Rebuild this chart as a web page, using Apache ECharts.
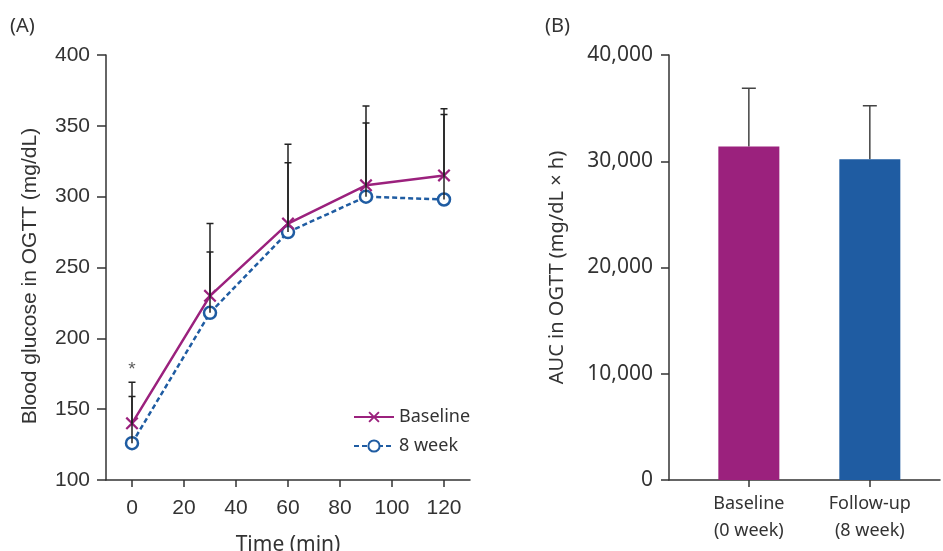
<!DOCTYPE html>
<html>
<head>
<meta charset="utf-8">
<script src="https://cdn.jsdelivr.net/npm/echarts@6/dist/echarts.min.js"></script>
<style>
  html, body { margin: 0; padding: 0; background: #fff; }
  #chart { width: 943px; height: 551px; }
</style>
</head>
<body>
<div id="chart"></div>
<script>
// (A) OGTT curves
const timePoints = [0, 30, 60, 90, 120]
const timeTicks = [0, 20, 40, 60, 80, 100, 120]
const baselineMean = [140, 230, 281, 308, 315]
const baselineSD = [29, 51, 56, 56, 47]
const week8Mean = [126, 218, 275, 300, 298]
const week8SD = [33, 43, 49, 52, 60]
const starValue = 178

// (B) AUC bars
const barLabels = ['Baseline\n(0 week)', 'Follow-up\n(8 week)']
const aucMean = [31400, 30200]
const aucSD = [5460, 5030]

const magenta = '#9B217D'
const blue = '#1F5CA2'
const ink = '#333'

// one polyline per point: mean -> top, then the cap
function errorBars(capHalf, color) {
  return function (params, api) {
    const x = api.value(0)
    const base = api.coord([x, api.value(1)])
    const top = api.coord([x, api.value(1) + api.value(2)])
    return {
      type: 'polyline',
      shape: {
        points: [base, top, [top[0] - capHalf, top[1]], [top[0] + capHalf, top[1]]]
      },
      style: { stroke: color, lineWidth: 1.5, fill: null }
    }
  }
}

const xMark = 'path://M1.2,0 L5,3.8 L8.8,0 L10,1.2 L6.2,5 L10,8.8 L8.8,10 L5,6.2 L1.2,10 L0,8.8 L3.8,5 L0,1.2 Z'

const axisLine = { show: true, onZero: false, lineStyle: { color: ink, width: 1.5 } }

const chart = echarts.init(document.getElementById('chart'))
chart.setOption({
  animation: false,
  graphic: [
    { type: 'text', left: 10, top: 16, style: { text: '(A)', font: '20px "Noto Sans"', fill: ink } },
    { type: 'text', left: 545, top: 16, style: { text: '(B)', font: '20px "Noto Sans"', fill: ink } },
    {
      type: 'text',
      x: 30,
      y: 276,
      rotation: Math.PI / 2,
      style: {
        text: 'Blood glucose in OGTT (mg/dL)',
        font: '21px "Liberation Sans"',
        fill: ink,
        align: 'center',
        verticalAlign: 'middle'
      }
    }
  ],
  legend: {
    data: ['Baseline', '8 week'],
    orient: 'vertical',
    left: 353,
    top: 408,
    padding: 0,
    itemWidth: 40,
    itemHeight: 14,
    itemGap: 11,
    textStyle: { fontFamily: 'Noto Sans', fontSize: 18, color: ink }
  },
  grid: [
    { left: 106, top: 55, right: 473, bottom: 71, outerBoundsMode: 'none' },
    { left: 669, top: 55, right: 3, bottom: 71, outerBoundsMode: 'none' }
  ],
  xAxis: [
    {
      type: 'value',
      gridIndex: 0,
      min: -10,
      max: 130,
      name: 'Time (min)',
      nameLocation: 'middle',
      nameGap: 55,
      nameTextStyle: { fontFamily: 'Noto Sans', fontSize: 21, color: ink },
      axisLine,
      axisTick: { customValues: timeTicks, length: 7, lineStyle: { color: ink, width: 1.5 } },
      axisLabel: { customValues: timeTicks, margin: 18, fontFamily: 'Liberation Sans', fontSize: 21, color: ink },
      splitLine: { show: false }
    },
    {
      type: 'value',
      gridIndex: 1,
      min: -0.66,
      max: 1.58,
      axisLine,
      axisTick: { customValues: [0, 1], length: 7, lineStyle: { color: ink, width: 1.5 } },
      axisLabel: {
        customValues: [0, 1],
        formatter: v => barLabels[Math.round(v)],
        margin: 10,
        lineHeight: 27,
        fontFamily: 'Noto Sans',
        fontSize: 18,
        color: ink
      },
      splitLine: { show: false }
    }
  ],
  yAxis: [
    {
      type: 'value',
      gridIndex: 0,
      min: 100,
      max: 400,
      interval: 50,
      axisLine,
      axisTick: { show: true, length: 9, lineStyle: { color: ink, width: 1.5 } },
      axisLabel: { margin: 16, fontFamily: 'Liberation Sans', fontSize: 21, color: ink },
      splitLine: { show: false }
    },
    {
      type: 'value',
      gridIndex: 1,
      min: 0,
      max: 40000,
      interval: 10000,
      name: 'AUC in OGTT (mg/dL × h)',
      nameLocation: 'middle',
      nameGap: 102,
      nameTextStyle: { fontFamily: 'Noto Sans', fontSize: 20, color: ink },
      axisLine,
      axisTick: { show: true, length: 8, lineStyle: { color: ink, width: 1.5 } },
      axisLabel: {
        margin: 16,
        fontFamily: 'Noto Sans',
        fontSize: 21,
        color: ink,
        formatter: v => v.toLocaleString('en-US')
      },
      splitLine: { show: false }
    }
  ],
  series: [
    {
      name: 'Baseline',
      type: 'line',
      xAxisIndex: 0,
      yAxisIndex: 0,
      data: timePoints.map((t, i) => [t, baselineMean[i]]),
      symbol: xMark,
      symbolSize: 13,
      lineStyle: { color: magenta, width: 2.5 },
      itemStyle: { color: magenta },
      z: 3
    },
    {
      name: '8 week',
      type: 'line',
      xAxisIndex: 0,
      yAxisIndex: 0,
      data: timePoints.map((t, i) => [t, week8Mean[i]]),
      symbol: 'circle',
      symbolSize: 12,
      showAllSymbol: true,
      lineStyle: { color: blue, width: 2.5, type: [5, 3] },
      itemStyle: { color: '#fff', borderColor: blue, borderWidth: 2.5 },
      z: 2
    },
    {
      type: 'scatter',
      xAxisIndex: 0,
      yAxisIndex: 0,
      symbolSize: 0,
      silent: true,
      label: { show: true, position: 'inside', formatter: '*', fontFamily: 'Liberation Sans', fontSize: 19, color: ink },
      data: [[0, starValue]]
    },
    {
      type: 'custom',
      xAxisIndex: 0,
      yAxisIndex: 0,
      encode: { x: 0, y: 1 },
      renderItem: errorBars(3.5, '#222'),
      data: timePoints.map((t, i) => [t, baselineMean[i], baselineSD[i]]),
      z: 4
    },
    {
      type: 'custom',
      xAxisIndex: 0,
      yAxisIndex: 0,
      encode: { x: 0, y: 1 },
      renderItem: errorBars(3.5, '#222'),
      data: timePoints.map((t, i) => [t, week8Mean[i], week8SD[i]]),
      z: 4
    },
    {
      type: 'bar',
      xAxisIndex: 1,
      yAxisIndex: 1,
      barWidth: 61,
      data: aucMean.map((v, i) => ({ value: [i, v], itemStyle: { color: i === 0 ? magenta : blue } }))
    },
    {
      type: 'custom',
      xAxisIndex: 1,
      yAxisIndex: 1,
      encode: { x: 0, y: 1 },
      renderItem: errorBars(7, '#444'),
      data: aucMean.map((v, i) => [i, v, aucSD[i]]),
      z: 1
    }
  ]
})
</script>
</body>
</html>
